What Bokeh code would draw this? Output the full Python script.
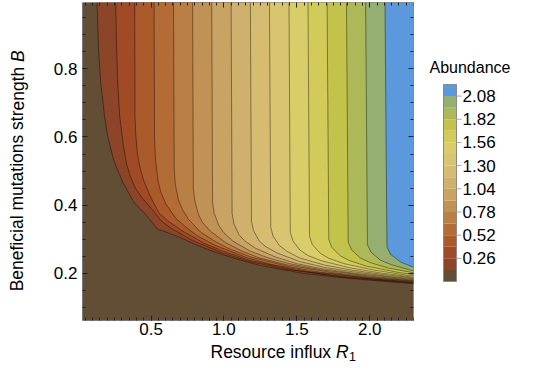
from bokeh.plotting import figure
from bokeh.models import Range1d, LinearAxis, SingleIntervalTicker, PrintfTickFormatter
from bokeh.layouts import row, column
from bokeh.core.properties import value
from bokeh.embed import file_html
from bokeh.resources import INLINE

# contour levels (abundance) and band colours (band 0 = below first level)
levels = [0.13, 0.26, 0.39, 0.52, 0.65, 0.78, 0.91, 1.04, 1.17, 1.30, 1.43, 1.56, 1.69, 1.82, 1.95, 2.08]
level_top = 2.21
band_colors = ["#624d35", "#8c4529", "#a04b25", "#ab5a2b", "#b36c35", "#ba7f45", "#c19255",
               "#c8a363", "#cfb16d", "#d5bc71", "#d8c56f", "#d9cd69", "#d2cb5a", "#c3c24a",
               "#adb958", "#95ae72", "#5b98dc"]
cbar_ticks = [0.26, 0.52, 0.78, 1.04, 1.30, 1.56, 1.82, 2.08]

# level curves: resource influx R1 and mutation strength B
r1_c01 = [0.128, 0.140, 0.154, 0.181, 0.202, 0.243, 0.305, 0.381, 0.464, 0.546, 0.622, 0.704, 0.821, 0.945, 1.083, 1.255, 1.551, 1.785, 2.012, 2.308, 2.631]
b_c01 = [1.02, 0.859, 0.765, 0.661, 0.604, 0.533, 0.468, 0.409, 0.372, 0.329, 0.318, 0.304, 0.281, 0.261, 0.242, 0.222, 0.199, 0.188, 0.179, 0.169, 0.160]
r1_c02 = [0.257, 0.264, 0.271, 0.285, 0.310, 0.333, 0.360, 0.395, 0.441, 0.510, 0.567, 0.636, 0.780, 0.992, 1.162, 1.418, 1.845, 2.272, 2.699]
b_c02 = [1.02, 0.859, 0.765, 0.661, 0.576, 0.519, 0.482, 0.448, 0.420, 0.386, 0.355, 0.332, 0.297, 0.259, 0.236, 0.212, 0.187, 0.172, 0.159]
r1_c03 = [0.388, 0.390, 0.395, 0.408, 0.423, 0.449, 0.499, 0.555, 0.614, 0.704, 0.859, 0.985, 1.176, 1.496, 1.753, 2.139, 2.784]
b_c03 = [1.02, 0.665, 0.607, 0.546, 0.512, 0.473, 0.422, 0.376, 0.354, 0.327, 0.289, 0.266, 0.238, 0.208, 0.193, 0.178, 0.155]
r1_c04 = [0.521, 0.524, 0.530, 0.548, 0.567, 0.602, 0.670, 0.745, 0.824, 0.945, 1.154, 1.323, 1.579, 2.009, 2.353]
b_c04 = [1.02, 0.596, 0.537, 0.471, 0.438, 0.403, 0.361, 0.333, 0.308, 0.281, 0.246, 0.226, 0.205, 0.184, 0.172]
r1_c05 = [0.654, 0.659, 0.666, 0.688, 0.713, 0.757, 0.842, 0.936, 1.035, 1.188, 1.449, 1.662, 1.984, 2.524]
b_c05 = [1.02, 0.507, 0.462, 0.415, 0.389, 0.358, 0.320, 0.294, 0.272, 0.247, 0.219, 0.203, 0.187, 0.168]
r1_c06 = [0.785, 0.790, 0.800, 0.826, 0.855, 0.908, 1.010, 1.123, 1.242, 1.425, 1.739, 1.994, 2.381]
b_c06 = [1.02, 0.450, 0.413, 0.371, 0.348, 0.323, 0.290, 0.265, 0.245, 0.225, 0.202, 0.189, 0.174]
r1_c07 = [0.916, 0.922, 0.933, 0.964, 0.997, 1.059, 1.179, 1.310, 1.449, 1.663, 2.029, 2.327, 2.777]
b_c07 = [1.02, 0.408, 0.376, 0.341, 0.320, 0.295, 0.265, 0.244, 0.228, 0.210, 0.190, 0.178, 0.162]
r1_c08 = [1.049, 1.056, 1.068, 1.103, 1.142, 1.213, 1.350, 1.500, 1.659, 1.904, 2.323, 2.664]
b_c08 = [1.02, 0.376, 0.346, 0.313, 0.295, 0.274, 0.248, 0.228, 0.214, 0.199, 0.180, 0.168]
r1_c09 = [1.181, 1.189, 1.203, 1.243, 1.287, 1.366, 1.521, 1.690, 1.869, 2.145, 2.617]
b_c09 = [1.02, 0.352, 0.325, 0.294, 0.278, 0.259, 0.234, 0.217, 0.205, 0.190, 0.171]
r1_c10 = [1.312, 1.321, 1.337, 1.381, 1.429, 1.517, 1.689, 1.878, 2.076, 2.383, 2.907]
b_c10 = [1.02, 0.335, 0.309, 0.281, 0.265, 0.245, 0.224, 0.209, 0.197, 0.182, 0.161]
r1_c11 = [1.446, 1.455, 1.473, 1.521, 1.575, 1.672, 1.861, 2.069, 2.287, 2.625]
b_c11 = [1.02, 0.320, 0.295, 0.268, 0.252, 0.236, 0.216, 0.201, 0.189, 0.175]
r1_c12 = [1.576, 1.587, 1.606, 1.659, 1.717, 1.823, 2.029, 2.256, 2.494]
b_c12 = [1.02, 0.308, 0.284, 0.259, 0.244, 0.228, 0.209, 0.194, 0.183]
r1_c13 = [1.707, 1.719, 1.739, 1.797, 1.860, 1.974, 2.197, 2.443]
b_c13 = [1.02, 0.299, 0.276, 0.251, 0.237, 0.221, 0.202, 0.188]
r1_c14 = [1.840, 1.852, 1.874, 1.936, 2.004, 2.128, 2.368]
b_c14 = [1.02, 0.291, 0.269, 0.244, 0.231, 0.215, 0.196]
r1_c15 = [1.971, 1.984, 2.008, 2.074, 2.147, 2.279, 2.537]
b_c15 = [1.02, 0.284, 0.262, 0.238, 0.225, 0.209, 0.191]
r1_c16 = [2.104, 2.118, 2.143, 2.214, 2.292, 2.433]
b_c16 = [1.02, 0.277, 0.255, 0.232, 0.219, 0.204]

curves_r1 = [r1_c01, r1_c02, r1_c03, r1_c04, r1_c05, r1_c06, r1_c07, r1_c08,
             r1_c09, r1_c10, r1_c11, r1_c12, r1_c13, r1_c14, r1_c15, r1_c16]
curves_b = [b_c01, b_c02, b_c03, b_c04, b_c05, b_c06, b_c07, b_c08,
            b_c09, b_c10, b_c11, b_c12, b_c13, b_c14, b_c15, b_c16]

FONT = "Liberation Sans"
X0, X1 = 0.03, 2.30
Y0, Y1 = 0.061, 0.995

def bare(width, height, xr, yr):
    f = figure(width=width, height=height, x_range=xr, y_range=yr, output_backend="svg",
               toolbar_location=None, x_axis_location=None, y_axis_location=None,
               min_border=0, title=None)
    f.outline_line_color = None
    f.grid.visible = False
    f.background_fill_color = "white"
    f.border_fill_color = "white"
    return f

# ---------------- main contour panel ----------------
p = figure(width=372, height=342, x_range=Range1d(X0, X1), y_range=Range1d(Y0, Y1),
           output_backend="svg", toolbar_location=None, title=None,
           min_border_left=33, min_border_right=8, min_border_top=2, min_border_bottom=22)
p.background_fill_color = band_colors[0]
p.border_fill_color = "white"
p.outline_line_color = None
p.grid.visible = False

xs, ys, cols = [], [], []
far = X1 + 1.0
for k, (r, b) in enumerate(zip(curves_r1, curves_b), start=1):
    xs.append(list(r) + [far, far])
    ys.append(list(b) + [b[-1], b[0]])
    cols.append(band_colors[k])
p.patches(xs, ys, fill_color=cols, line_color=None)
p.multi_line(curves_r1, curves_b, line_color="black", line_alpha=0.4, line_width=1)

def style_axis(ax, show_labels=True):
    ax.major_tick_in = 5
    ax.major_tick_out = 0
    ax.minor_tick_in = 3
    ax.minor_tick_out = 0
    ax.axis_line_color = "#7a7a7a"
    ax.major_tick_line_color = "#222222"
    ax.minor_tick_line_color = "#222222"
    ax.major_label_text_font = FONT
    ax.major_label_text_font_size = "17px"
    ax.formatter = PrintfTickFormatter(format="%.1f")
    ax.major_label_text_color = "black" if show_labels else None

p.xaxis[0].ticker = SingleIntervalTicker(interval=0.5, num_minor_ticks=10)
p.yaxis[0].ticker = SingleIntervalTicker(interval=0.2, num_minor_ticks=4)
style_axis(p.xaxis[0])
style_axis(p.yaxis[0])
p.xaxis[0].major_label_standoff = 2
p.yaxis[0].major_label_standoff = 5

top_ax = LinearAxis(ticker=SingleIntervalTicker(interval=0.5, num_minor_ticks=10), fixed_location=Y1)
style_axis(top_ax, False)
p.add_layout(top_ax, "above")
right_ax = LinearAxis(ticker=SingleIntervalTicker(interval=0.2, num_minor_ticks=4), fixed_location=X1)
style_axis(right_ax, False)
p.add_layout(right_ax, "right")

# ---------------- axis titles ----------------
ylab = bare(49, 342, Range1d(0, 49), Range1d(0, 342))
ylab.text(x=[17], y=[273], text=["Beneficial mutations strength"], angle=1.5707963,
          text_align="right", text_baseline="alphabetic", text_font=value(FONT),
          text_font_size=value("17.5px"), text_color="black")
ylab.text(x=[17], y=[278], text=["B"], angle=1.5707963,
          text_align="left", text_baseline="alphabetic", text_font=value(FONT),
          text_font_size=value("17.5px"), text_font_style=value("italic"), text_color="black")

xlab = bare(421, 22, Range1d(0, 421), Range1d(0, 22))
xlab.text(x=[210], y=[12.5], text=["Resource influx"], text_align="left", text_baseline="middle",
          text_font=value(FONT), text_font_size=value("17.5px"), text_color="black")
xlab.text(x=[335.5], y=[12.5], text=["R"], text_align="left", text_baseline="middle",
          text_font=value(FONT), text_font_size=value("17.5px"), text_font_style=value("italic"),
          text_color="black")
xlab.text(x=[348.6], y=[8], text=["1"], text_align="left", text_baseline="middle",
          text_font=value(FONT), text_font_size=value("12.5px"), text_color="black")

# ---------------- colour legend ----------------
leg = bare(103, 364, Range1d(0, 103), Range1d(-0.9311, 3.1523))
bottoms = [0.0] + levels
tops = levels + [level_top]
leg.quad(left=22, right=35, bottom=bottoms, top=tops, fill_color=band_colors, line_color=None)
leg.quad(left=22, right=35, bottom=0.0, top=level_top, fill_color=None,
         line_color="#8a8a8a", line_width=1)
leg.segment(x0=35, x1=40, y0=cbar_ticks, y1=cbar_ticks, line_color="#a8a8a8", line_width=1)
leg.text(x=41, y=cbar_ticks, text=["%.2f" % t for t in cbar_ticks], text_align="left",
         text_baseline="middle", text_font=value(FONT), text_font_size=value("17px"),
         text_color="black")
leg.text(x=[8], y=[2.4007], text=["Abundance"], text_align="left", text_baseline="alphabetic",
         text_font=value(FONT), text_font_size=value("16px"), text_color="black")

layout = row(column(row(ylab, p), xlab), leg)
open("out.html", "w").write(file_html(layout, INLINE))
